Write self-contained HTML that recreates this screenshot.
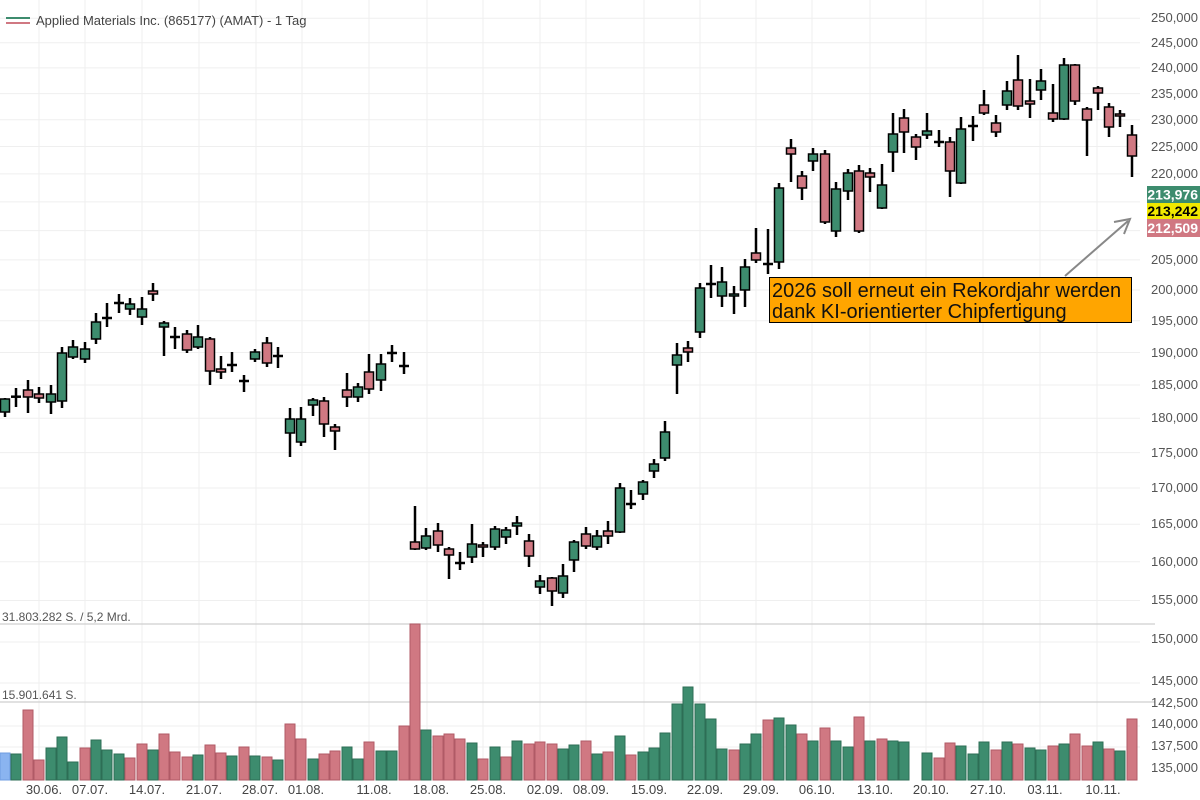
<!DOCTYPE html>
<html><head><meta charset="utf-8"><style>
html,body{margin:0;padding:0;background:#fff;}
svg{display:block;font-family:"Liberation Sans",Arial,sans-serif;}
</style></head><body>
<svg width="1200" height="800" viewBox="0 0 1200 800" xmlns="http://www.w3.org/2000/svg">
<rect width="1200" height="800" fill="#fff"/>
<g stroke="#efefef" stroke-width="1">
<line x1="0" x2="1140" y1="18.2" y2="18.2"/><line x1="0" x2="1140" y1="42.8" y2="42.8"/><line x1="0" x2="1140" y1="67.9" y2="67.9"/><line x1="0" x2="1140" y1="93.6" y2="93.6"/><line x1="0" x2="1140" y1="119.8" y2="119.8"/><line x1="0" x2="1140" y1="146.5" y2="146.5"/><line x1="0" x2="1140" y1="173.9" y2="173.9"/><line x1="0" x2="1140" y1="201.9" y2="201.9"/><line x1="0" x2="1140" y1="230.6" y2="230.6"/><line x1="0" x2="1140" y1="259.9" y2="259.9"/><line x1="0" x2="1140" y1="290" y2="290"/><line x1="0" x2="1140" y1="320.8" y2="320.8"/><line x1="0" x2="1140" y1="352.5" y2="352.5"/><line x1="0" x2="1140" y1="385" y2="385"/><line x1="0" x2="1140" y1="418.3" y2="418.3"/><line x1="0" x2="1140" y1="452.6" y2="452.6"/><line x1="0" x2="1140" y1="488" y2="488"/><line x1="0" x2="1140" y1="524.3" y2="524.3"/><line x1="0" x2="1140" y1="561.8" y2="561.8"/><line x1="0" x2="1140" y1="600.5" y2="600.5"/>
<line x1="0" x2="1140" y1="642" y2="642"/><line x1="0" x2="1140" y1="683" y2="683"/><line x1="0" x2="1140" y1="726" y2="726"/><line x1="0" x2="1140" y1="747" y2="747"/>
<line x1="39" x2="39" y1="0" y2="780"/><line x1="85" x2="85" y1="0" y2="780"/><line x1="142" x2="142" y1="0" y2="780"/><line x1="199" x2="199" y1="0" y2="780"/><line x1="256" x2="256" y1="0" y2="780"/><line x1="302" x2="302" y1="0" y2="780"/><line x1="369" x2="369" y1="0" y2="780"/><line x1="427" x2="427" y1="0" y2="780"/><line x1="483" x2="483" y1="0" y2="780"/><line x1="540" x2="540" y1="0" y2="780"/><line x1="586" x2="586" y1="0" y2="780"/><line x1="644" x2="644" y1="0" y2="780"/><line x1="700" x2="700" y1="0" y2="780"/><line x1="756" x2="756" y1="0" y2="780"/><line x1="812" x2="812" y1="0" y2="780"/><line x1="870" x2="870" y1="0" y2="780"/><line x1="926" x2="926" y1="0" y2="780"/><line x1="983" x2="983" y1="0" y2="780"/><line x1="1040" x2="1040" y1="0" y2="780"/><line x1="1097" x2="1097" y1="0" y2="780"/>
</g>
<g stroke="#cfcfcf" stroke-width="1.2"><line x1="0" x2="1155" y1="624" y2="624"/><line x1="0" x2="1155" y1="702" y2="702"/></g>
<g font-size="12" fill="#555"><text x="2" y="621">31.803.282 S. / 5,2 Mrd.</text><text x="2" y="699">15.901.641 S.</text></g>
<line x1="6" x2="30" y1="18" y2="18" stroke="#3d8c6e" stroke-width="2"/><line x1="6" x2="30" y1="23" y2="23" stroke="#d07882" stroke-width="2"/>
<text x="36" y="25" font-size="13" fill="#444">Applied Materials Inc. (865177) (AMAT) - 1 Tag</text>
<g stroke-width="1">
<rect x="0" y="753" width="10" height="27" fill="#8ab4f0" stroke="#6f9de0"/>
<rect x="11" y="754" width="10" height="26" fill="#3d8c6e" stroke="#2d6e55"/><rect x="23" y="710" width="10" height="70" fill="#d07882" stroke="#b05a66"/><rect x="34" y="760" width="10" height="20" fill="#d07882" stroke="#b05a66"/><rect x="46" y="748" width="10" height="32" fill="#3d8c6e" stroke="#2d6e55"/><rect x="57" y="737" width="10" height="43" fill="#3d8c6e" stroke="#2d6e55"/><rect x="68" y="762" width="10" height="18" fill="#3d8c6e" stroke="#2d6e55"/><rect x="80" y="748" width="10" height="32" fill="#d07882" stroke="#b05a66"/><rect x="91" y="740" width="10" height="40" fill="#3d8c6e" stroke="#2d6e55"/><rect x="102" y="750" width="10" height="30" fill="#3d8c6e" stroke="#2d6e55"/><rect x="114" y="754" width="10" height="26" fill="#3d8c6e" stroke="#2d6e55"/><rect x="125" y="758" width="10" height="22" fill="#d07882" stroke="#b05a66"/><rect x="137" y="744" width="10" height="36" fill="#d07882" stroke="#b05a66"/><rect x="148" y="750" width="10" height="30" fill="#3d8c6e" stroke="#2d6e55"/><rect x="159" y="734" width="10" height="46" fill="#d07882" stroke="#b05a66"/><rect x="170" y="752" width="10" height="28" fill="#d07882" stroke="#b05a66"/><rect x="182" y="757" width="10" height="23" fill="#d07882" stroke="#b05a66"/><rect x="193" y="755" width="10" height="25" fill="#3d8c6e" stroke="#2d6e55"/><rect x="205" y="745" width="10" height="35" fill="#d07882" stroke="#b05a66"/><rect x="216" y="753" width="10" height="27" fill="#d07882" stroke="#b05a66"/><rect x="227" y="756" width="10" height="24" fill="#3d8c6e" stroke="#2d6e55"/><rect x="239" y="747" width="10" height="33" fill="#d07882" stroke="#b05a66"/><rect x="250" y="756" width="10" height="24" fill="#3d8c6e" stroke="#2d6e55"/><rect x="262" y="757" width="10" height="23" fill="#d07882" stroke="#b05a66"/><rect x="273" y="760" width="10" height="20" fill="#3d8c6e" stroke="#2d6e55"/><rect x="285" y="724" width="10" height="56" fill="#d07882" stroke="#b05a66"/><rect x="296" y="739" width="10" height="41" fill="#d07882" stroke="#b05a66"/><rect x="308" y="759" width="10" height="21" fill="#3d8c6e" stroke="#2d6e55"/><rect x="319" y="754" width="10" height="26" fill="#d07882" stroke="#b05a66"/><rect x="330" y="751" width="10" height="29" fill="#d07882" stroke="#b05a66"/><rect x="342" y="747" width="10" height="33" fill="#3d8c6e" stroke="#2d6e55"/><rect x="353" y="759" width="10" height="21" fill="#3d8c6e" stroke="#2d6e55"/><rect x="364" y="742" width="10" height="38" fill="#d07882" stroke="#b05a66"/><rect x="376" y="751" width="10" height="29" fill="#3d8c6e" stroke="#2d6e55"/><rect x="387" y="751" width="10" height="29" fill="#3d8c6e" stroke="#2d6e55"/><rect x="399" y="726" width="10" height="54" fill="#d07882" stroke="#b05a66"/><rect x="410" y="624" width="10" height="156" fill="#d07882" stroke="#b05a66"/><rect x="421" y="730" width="10" height="50" fill="#3d8c6e" stroke="#2d6e55"/><rect x="433" y="736" width="10" height="44" fill="#d07882" stroke="#b05a66"/><rect x="444" y="734" width="10" height="46" fill="#d07882" stroke="#b05a66"/><rect x="455" y="739" width="10" height="41" fill="#d07882" stroke="#b05a66"/><rect x="467" y="743" width="10" height="37" fill="#3d8c6e" stroke="#2d6e55"/><rect x="478" y="759" width="10" height="21" fill="#d07882" stroke="#b05a66"/><rect x="490" y="747" width="10" height="33" fill="#3d8c6e" stroke="#2d6e55"/><rect x="501" y="757" width="10" height="23" fill="#d07882" stroke="#b05a66"/><rect x="512" y="741" width="10" height="39" fill="#3d8c6e" stroke="#2d6e55"/><rect x="524" y="744" width="10" height="36" fill="#d07882" stroke="#b05a66"/><rect x="535" y="742" width="10" height="38" fill="#d07882" stroke="#b05a66"/><rect x="547" y="744" width="10" height="36" fill="#d07882" stroke="#b05a66"/><rect x="558" y="749" width="10" height="31" fill="#3d8c6e" stroke="#2d6e55"/><rect x="569" y="745" width="10" height="35" fill="#3d8c6e" stroke="#2d6e55"/><rect x="581" y="741" width="10" height="39" fill="#d07882" stroke="#b05a66"/><rect x="592" y="754" width="10" height="26" fill="#3d8c6e" stroke="#2d6e55"/>
<rect x="603" y="752" width="10" height="28" fill="#d07882" stroke="#b05a66"/><rect x="615" y="736" width="10" height="44" fill="#3d8c6e" stroke="#2d6e55"/><rect x="626" y="755" width="10" height="25" fill="#d07882" stroke="#b05a66"/><rect x="638" y="752" width="10" height="28" fill="#3d8c6e" stroke="#2d6e55"/><rect x="649" y="748" width="10" height="32" fill="#3d8c6e" stroke="#2d6e55"/><rect x="660" y="733" width="10" height="47" fill="#3d8c6e" stroke="#2d6e55"/><rect x="672" y="704" width="10" height="76" fill="#3d8c6e" stroke="#2d6e55"/><rect x="683" y="687" width="10" height="93" fill="#3d8c6e" stroke="#2d6e55"/><rect x="695" y="704" width="10" height="76" fill="#3d8c6e" stroke="#2d6e55"/><rect x="706" y="719" width="10" height="61" fill="#3d8c6e" stroke="#2d6e55"/><rect x="717" y="749" width="10" height="31" fill="#3d8c6e" stroke="#2d6e55"/><rect x="729" y="750" width="10" height="30" fill="#d07882" stroke="#b05a66"/><rect x="740" y="744" width="10" height="36" fill="#3d8c6e" stroke="#2d6e55"/><rect x="751" y="734" width="10" height="46" fill="#3d8c6e" stroke="#2d6e55"/><rect x="763" y="720" width="10" height="60" fill="#d07882" stroke="#b05a66"/><rect x="774" y="718" width="10" height="62" fill="#3d8c6e" stroke="#2d6e55"/><rect x="786" y="725" width="10" height="55" fill="#3d8c6e" stroke="#2d6e55"/><rect x="797" y="734" width="10" height="46" fill="#d07882" stroke="#b05a66"/><rect x="808" y="741" width="10" height="39" fill="#3d8c6e" stroke="#2d6e55"/><rect x="820" y="728" width="10" height="52" fill="#d07882" stroke="#b05a66"/><rect x="831" y="741" width="10" height="39" fill="#3d8c6e" stroke="#2d6e55"/><rect x="843" y="747" width="10" height="33" fill="#3d8c6e" stroke="#2d6e55"/><rect x="854" y="717" width="10" height="63" fill="#d07882" stroke="#b05a66"/><rect x="865" y="741" width="10" height="39" fill="#3d8c6e" stroke="#2d6e55"/><rect x="877" y="739" width="10" height="41" fill="#d07882" stroke="#b05a66"/><rect x="888" y="741" width="10" height="39" fill="#3d8c6e" stroke="#2d6e55"/><rect x="899" y="742" width="10" height="38" fill="#3d8c6e" stroke="#2d6e55"/><rect x="922" y="753" width="10" height="27" fill="#3d8c6e" stroke="#2d6e55"/><rect x="934" y="758" width="10" height="22" fill="#d07882" stroke="#b05a66"/><rect x="945" y="743" width="10" height="37" fill="#d07882" stroke="#b05a66"/><rect x="956" y="746" width="10" height="34" fill="#3d8c6e" stroke="#2d6e55"/><rect x="968" y="754" width="10" height="26" fill="#3d8c6e" stroke="#2d6e55"/><rect x="979" y="742" width="10" height="38" fill="#3d8c6e" stroke="#2d6e55"/><rect x="991" y="750" width="10" height="30" fill="#d07882" stroke="#b05a66"/><rect x="1002" y="742" width="10" height="38" fill="#3d8c6e" stroke="#2d6e55"/><rect x="1013" y="744" width="10" height="36" fill="#d07882" stroke="#b05a66"/><rect x="1025" y="748" width="10" height="32" fill="#3d8c6e" stroke="#2d6e55"/><rect x="1036" y="750" width="10" height="30" fill="#3d8c6e" stroke="#2d6e55"/><rect x="1048" y="746" width="10" height="34" fill="#d07882" stroke="#b05a66"/><rect x="1059" y="744" width="10" height="36" fill="#3d8c6e" stroke="#2d6e55"/><rect x="1070" y="734" width="10" height="46" fill="#d07882" stroke="#b05a66"/><rect x="1082" y="746" width="10" height="34" fill="#d07882" stroke="#b05a66"/><rect x="1093" y="742" width="10" height="38" fill="#3d8c6e" stroke="#2d6e55"/><rect x="1104" y="749" width="10" height="31" fill="#d07882" stroke="#b05a66"/><rect x="1115" y="751" width="10" height="29" fill="#3d8c6e" stroke="#2d6e55"/><rect x="1127" y="719" width="10" height="61" fill="#d07882" stroke="#b05a66"/>
</g>
<g stroke="#000" stroke-width="2.5">
<line x1="5" x2="5" y1="398" y2="417"/><line x1="16" x2="16" y1="388" y2="407"/><line x1="28" x2="28" y1="380" y2="413"/><line x1="39" x2="39" y1="387" y2="403"/><line x1="51" x2="51" y1="385" y2="414"/><line x1="62" x2="62" y1="347" y2="408"/><line x1="73" x2="73" y1="340" y2="359"/><line x1="85" x2="85" y1="342" y2="363"/><line x1="96" x2="96" y1="313" y2="344"/><line x1="107" x2="107" y1="303" y2="327"/><line x1="119" x2="119" y1="294" y2="313"/><line x1="130" x2="130" y1="298" y2="315"/><line x1="142" x2="142" y1="297" y2="325"/><line x1="153" x2="153" y1="283" y2="301"/><line x1="164" x2="164" y1="321" y2="356"/><line x1="175" x2="175" y1="327" y2="349"/><line x1="187" x2="187" y1="330" y2="353"/><line x1="198" x2="198" y1="325" y2="349"/><line x1="210" x2="210" y1="337" y2="385"/><line x1="221" x2="221" y1="356" y2="379"/><line x1="232" x2="232" y1="352" y2="372"/><line x1="244" x2="244" y1="375" y2="392"/><line x1="255" x2="255" y1="349" y2="362"/><line x1="267" x2="267" y1="337" y2="367"/><line x1="278" x2="278" y1="347" y2="368"/><line x1="290" x2="290" y1="408" y2="457"/><line x1="301" x2="301" y1="407" y2="446"/><line x1="313" x2="313" y1="398" y2="416"/><line x1="324" x2="324" y1="397" y2="437"/><line x1="335" x2="335" y1="424" y2="450"/><line x1="347" x2="347" y1="373" y2="407"/><line x1="358" x2="358" y1="383" y2="402"/><line x1="369" x2="369" y1="354" y2="394"/><line x1="381" x2="381" y1="354" y2="391"/><line x1="392" x2="392" y1="345" y2="362"/><line x1="404" x2="404" y1="352" y2="374"/>
<line x1="415" x2="415" y1="506" y2="550"/><line x1="426" x2="426" y1="528" y2="550"/><line x1="438" x2="438" y1="523" y2="552"/><line x1="449" x2="449" y1="547" y2="579"/><line x1="460" x2="460" y1="552" y2="570"/><line x1="472" x2="472" y1="524" y2="563"/><line x1="483" x2="483" y1="542" y2="557"/><line x1="495" x2="495" y1="526" y2="550"/><line x1="506" x2="506" y1="527" y2="544"/><line x1="517" x2="517" y1="516" y2="535"/><line x1="529" x2="529" y1="534" y2="567"/><line x1="540" x2="540" y1="575" y2="594"/><line x1="552" x2="552" y1="577" y2="606"/><line x1="563" x2="563" y1="564" y2="598"/><line x1="574" x2="574" y1="540" y2="572"/><line x1="586" x2="586" y1="527" y2="549"/><line x1="597" x2="597" y1="530" y2="550"/><line x1="608" x2="608" y1="521" y2="544"/><line x1="620" x2="620" y1="483" y2="533"/><line x1="631" x2="631" y1="490" y2="509"/><line x1="643" x2="643" y1="480" y2="500"/><line x1="654" x2="654" y1="459" y2="478"/><line x1="665" x2="665" y1="421" y2="461"/><line x1="677" x2="677" y1="343" y2="394"/><line x1="688" x2="688" y1="341" y2="362"/><line x1="700" x2="700" y1="283" y2="338"/><line x1="711" x2="711" y1="265" y2="298"/><line x1="722" x2="722" y1="267" y2="307"/><line x1="734" x2="734" y1="286" y2="314"/><line x1="745" x2="745" y1="259" y2="307"/><line x1="756" x2="756" y1="228" y2="263"/><line x1="768" x2="768" y1="229" y2="274"/><line x1="779" x2="779" y1="183" y2="269"/><line x1="791" x2="791" y1="139" y2="182"/><line x1="802" x2="802" y1="171" y2="200"/><line x1="813" x2="813" y1="148" y2="171"/><line x1="825" x2="825" y1="150" y2="224"/><line x1="836" x2="836" y1="182" y2="237"/><line x1="848" x2="848" y1="169" y2="200"/><line x1="859" x2="859" y1="165" y2="233"/><line x1="870" x2="870" y1="168" y2="192"/><line x1="882" x2="882" y1="164" y2="209"/><line x1="893" x2="893" y1="113" y2="172"/><line x1="904" x2="904" y1="109" y2="153"/><line x1="916" x2="916" y1="134" y2="160"/><line x1="927" x2="927" y1="113" y2="139"/><line x1="939" x2="939" y1="130" y2="147"/><line x1="950" x2="950" y1="137" y2="197"/><line x1="961" x2="961" y1="117" y2="184"/><line x1="973" x2="973" y1="116" y2="141"/><line x1="984" x2="984" y1="90" y2="115"/><line x1="996" x2="996" y1="115" y2="137"/><line x1="1007" x2="1007" y1="81" y2="110"/><line x1="1018" x2="1018" y1="55" y2="110"/><line x1="1030" x2="1030" y1="79" y2="118"/><line x1="1041" x2="1041" y1="69" y2="100"/><line x1="1053" x2="1053" y1="84" y2="122"/><line x1="1064" x2="1064" y1="58" y2="120"/><line x1="1075" x2="1075" y1="64" y2="105"/><line x1="1087" x2="1087" y1="107" y2="156"/><line x1="1098" x2="1098" y1="86" y2="110"/><line x1="1109" x2="1109" y1="103" y2="137"/><line x1="1120" x2="1120" y1="110" y2="127"/><line x1="1132" x2="1132" y1="125" y2="177"/>
</g>
<g stroke="#000" stroke-width="2.5">
<line x1="11" x2="21" y1="396.7" y2="396.7"/><line x1="102" x2="112" y1="318" y2="318"/><line x1="114" x2="124" y1="303" y2="303"/><line x1="170" x2="180" y1="337" y2="337"/><line x1="227" x2="237" y1="365" y2="365"/><line x1="239" x2="249" y1="381" y2="381"/><line x1="273" x2="283" y1="356" y2="356"/><line x1="387" x2="397" y1="353" y2="353"/><line x1="399" x2="409" y1="366" y2="366"/><line x1="455" x2="465" y1="563" y2="563"/><line x1="626" x2="636" y1="504" y2="504"/><line x1="706" x2="716" y1="284" y2="284"/><line x1="763" x2="773" y1="264" y2="264"/><line x1="934" x2="944" y1="142" y2="142"/><line x1="968" x2="978" y1="126" y2="126"/>
</g>
<g stroke="#000" stroke-width="1.5">
<rect x="0.5" y="399" width="9" height="13" fill="#3d8c6e"/><rect x="23.5" y="390" width="9" height="7" fill="#d07882"/><rect x="34.5" y="394" width="9" height="4" fill="#d07882"/><rect x="46.5" y="394" width="9" height="8" fill="#3d8c6e"/><rect x="57.5" y="353" width="9" height="48" fill="#3d8c6e"/><rect x="68.5" y="347" width="9" height="10" fill="#3d8c6e"/><rect x="80.5" y="349" width="9" height="10" fill="#3d8c6e"/><rect x="91.5" y="322" width="9" height="17" fill="#3d8c6e"/><rect x="125.5" y="304" width="9" height="5" fill="#3d8c6e"/><rect x="137.5" y="309" width="9" height="8" fill="#3d8c6e"/><rect x="148.5" y="291" width="9" height="3" fill="#d07882"/><rect x="159.5" y="323" width="9" height="4" fill="#3d8c6e"/><rect x="182.5" y="334" width="9" height="16" fill="#d07882"/><rect x="193.5" y="337" width="9" height="10" fill="#3d8c6e"/><rect x="205.5" y="339" width="9" height="32" fill="#d07882"/><rect x="216.5" y="369" width="9" height="3" fill="#d07882"/><rect x="250.5" y="352" width="9" height="7" fill="#3d8c6e"/><rect x="262.5" y="343" width="9" height="20" fill="#d07882"/>
<rect x="285.5" y="419" width="9" height="14" fill="#3d8c6e"/><rect x="296.5" y="419" width="9" height="23" fill="#3d8c6e"/><rect x="308.5" y="400" width="9" height="5" fill="#3d8c6e"/><rect x="319.5" y="401" width="9" height="23" fill="#d07882"/><rect x="330.5" y="427" width="9" height="4" fill="#d07882"/><rect x="342.5" y="390" width="9" height="7" fill="#d07882"/><rect x="353.5" y="387" width="9" height="10" fill="#3d8c6e"/><rect x="364.5" y="372" width="9" height="17" fill="#d07882"/><rect x="376.5" y="364" width="9" height="16" fill="#3d8c6e"/>
<rect x="410.5" y="542" width="9" height="7" fill="#d07882"/><rect x="421.5" y="536" width="9" height="12" fill="#3d8c6e"/><rect x="433.5" y="531" width="9" height="14" fill="#d07882"/><rect x="444.5" y="549" width="9" height="6" fill="#d07882"/><rect x="467.5" y="544" width="9" height="13" fill="#3d8c6e"/><rect x="478.5" y="545" width="9" height="2" fill="#d07882"/><rect x="490.5" y="529" width="9" height="18" fill="#3d8c6e"/><rect x="501.5" y="530" width="9" height="7" fill="#3d8c6e"/><rect x="512.5" y="523" width="9" height="3" fill="#3d8c6e"/><rect x="524.5" y="541" width="9" height="15" fill="#d07882"/><rect x="535.5" y="581" width="9" height="6" fill="#3d8c6e"/><rect x="547.5" y="578" width="9" height="13" fill="#d07882"/><rect x="558.5" y="576" width="9" height="17" fill="#3d8c6e"/><rect x="569.5" y="542" width="9" height="18" fill="#3d8c6e"/><rect x="581.5" y="534" width="9" height="12" fill="#d07882"/><rect x="592.5" y="536" width="9" height="11" fill="#3d8c6e"/><rect x="603.5" y="531" width="9" height="5" fill="#d07882"/><rect x="615.5" y="488" width="9" height="44" fill="#3d8c6e"/><rect x="638.5" y="482" width="9" height="12" fill="#3d8c6e"/><rect x="649.5" y="464" width="9" height="7" fill="#3d8c6e"/><rect x="660.5" y="432" width="9" height="26" fill="#3d8c6e"/>
<rect x="672.5" y="355" width="9" height="10" fill="#3d8c6e"/><rect x="683.5" y="348" width="9" height="4" fill="#d07882"/><rect x="695.5" y="288" width="9" height="44" fill="#3d8c6e"/><rect x="717.5" y="282" width="9" height="14" fill="#3d8c6e"/><rect x="729.5" y="294" width="9" height="2" fill="#3d8c6e"/><rect x="740.5" y="267" width="9" height="23" fill="#3d8c6e"/><rect x="751.5" y="253" width="9" height="7" fill="#d07882"/><rect x="774.5" y="188" width="9" height="74" fill="#3d8c6e"/><rect x="786.5" y="148" width="9" height="6" fill="#d07882"/><rect x="797.5" y="176" width="9" height="12" fill="#d07882"/><rect x="808.5" y="154" width="9" height="7" fill="#3d8c6e"/><rect x="820.5" y="154" width="9" height="68" fill="#d07882"/><rect x="831.5" y="189" width="9" height="42" fill="#3d8c6e"/><rect x="843.5" y="173" width="9" height="18" fill="#3d8c6e"/><rect x="854.5" y="171" width="9" height="60" fill="#d07882"/><rect x="865.5" y="173" width="9" height="4" fill="#d07882"/><rect x="877.5" y="185" width="9" height="23" fill="#3d8c6e"/>
<rect x="888.5" y="134" width="9" height="18" fill="#3d8c6e"/><rect x="899.5" y="118" width="9" height="14" fill="#d07882"/><rect x="911.5" y="137" width="9" height="10" fill="#d07882"/><rect x="922.5" y="131" width="9" height="4" fill="#3d8c6e"/><rect x="945.5" y="142" width="9" height="29" fill="#d07882"/><rect x="956.5" y="129" width="9" height="54" fill="#3d8c6e"/><rect x="979.5" y="105" width="9" height="8" fill="#d07882"/><rect x="991.5" y="123" width="9" height="9" fill="#d07882"/><rect x="1002.5" y="91" width="9" height="14" fill="#3d8c6e"/><rect x="1013.5" y="80" width="9" height="26" fill="#d07882"/><rect x="1025.5" y="101" width="9" height="3" fill="#d07882"/><rect x="1036.5" y="81" width="9" height="9" fill="#3d8c6e"/><rect x="1048.5" y="113" width="9" height="6" fill="#d07882"/><rect x="1059.5" y="65" width="9" height="54" fill="#3d8c6e"/><rect x="1070.5" y="65" width="9" height="36" fill="#d07882"/><rect x="1082.5" y="109" width="9" height="11" fill="#d07882"/><rect x="1093.5" y="88" width="9" height="5" fill="#d07882"/><rect x="1104.5" y="107" width="9" height="20" fill="#d07882"/><rect x="1115.5" y="114" width="9" height="2" fill="#d07882"/><rect x="1127.5" y="135" width="9" height="21" fill="#d07882"/>
</g>
<line x1="1065" y1="276" x2="1128" y2="221" stroke="#888" stroke-width="2"/>
<polyline points="1114,222 1130,219 1124,234" fill="none" stroke="#888" stroke-width="2"/>
<rect x="769.5" y="277.5" width="362" height="45" fill="#ffa500" stroke="#000" stroke-width="1"/>
<text x="772" y="297" font-size="20" fill="#111">2026 soll erneut ein Rekordjahr werden</text>
<text x="772" y="318" font-size="20" fill="#111">dank KI-orientierter Chipfertigung</text>
<g font-size="13" fill="#555" text-anchor="end">
<text x="1198" y="22">250,000</text><text x="1198" y="47">245,000</text><text x="1198" y="72">240,000</text><text x="1198" y="98">235,000</text><text x="1198" y="124">230,000</text><text x="1198" y="151">225,000</text><text x="1198" y="178">220,000</text><text x="1198" y="264">205,000</text><text x="1198" y="294">200,000</text><text x="1198" y="325">195,000</text><text x="1198" y="357">190,000</text><text x="1198" y="389">185,000</text><text x="1198" y="422">180,000</text><text x="1198" y="457">175,000</text><text x="1198" y="492">170,000</text><text x="1198" y="528">165,000</text><text x="1198" y="566">160,000</text><text x="1198" y="604">155,000</text>
<text x="1198" y="643">150,000</text><text x="1198" y="685">145,000</text><text x="1198" y="707">142,500</text><text x="1198" y="728">140,000</text><text x="1198" y="750">137,500</text><text x="1198" y="772">135,000</text>
</g>
<rect x="1147" y="186" width="53" height="17" fill="#3d8c6e"/><text x="1198" y="199.5" font-size="14" font-weight="bold" fill="#fff" text-anchor="end">213,976</text>
<rect x="1147" y="203" width="53" height="16" fill="#f0e800"/><text x="1198" y="216" font-size="14" font-weight="bold" fill="#000" text-anchor="end">213,242</text>
<rect x="1147" y="219" width="53" height="18" fill="#d07882"/><text x="1198" y="233" font-size="14" font-weight="bold" fill="#fff" text-anchor="end">212,509</text>
<g font-size="13" fill="#444" text-anchor="middle">
<text x="44" y="794">30.06.</text><text x="90" y="794">07.07.</text><text x="147" y="794">14.07.</text><text x="204" y="794">21.07.</text><text x="260" y="794">28.07.</text><text x="306" y="794">01.08.</text><text x="374" y="794">11.08.</text><text x="431" y="794">18.08.</text><text x="488" y="794">25.08.</text><text x="545" y="794">02.09.</text><text x="591" y="794">08.09.</text><text x="649" y="794">15.09.</text><text x="705" y="794">22.09.</text><text x="761" y="794">29.09.</text><text x="817" y="794">06.10.</text><text x="875" y="794">13.10.</text><text x="931" y="794">20.10.</text><text x="988" y="794">27.10.</text><text x="1045" y="794">03.11.</text><text x="1103" y="794">10.11.</text>
</g>
</svg>
</body></html>
